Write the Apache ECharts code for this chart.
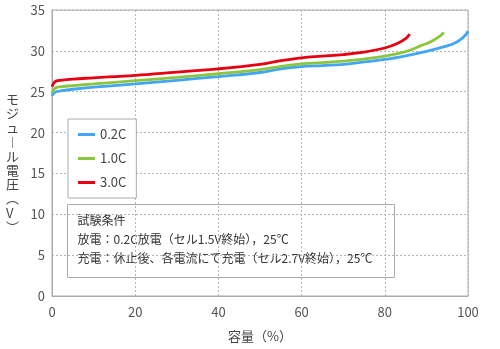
<!DOCTYPE html>
<html>
<head>
<meta charset="utf-8">
<script src="https://cdn.jsdelivr.net/npm/echarts@6/dist/echarts.min.js"></script>
<style>
  html, body { margin: 0; padding: 0; background: #fff; }
  #chart { width: 500px; height: 349px; }
</style>
</head>
<body>
<div id="chart"></div>
<script>
// Module voltage vs. capacity for three charge rates
const seriesNames = ['0.2C', '1.0C', '3.0C'];
const seriesColors = ['#42a5f5', '#8cc63f', '#e60012'];

// [capacity %, module voltage V]
const curve02C = [
  [0, 24.5], [0.5, 24.85], [1, 25.0], [2, 25.1], [5, 25.3], [10, 25.55],
  [20, 25.95], [30, 26.4], [40, 26.85], [50, 27.35], [55, 27.8], [60, 28.07],
  [65, 28.2], [70, 28.35], [75, 28.65], [80, 28.95], [85, 29.4], [90, 29.95],
  [95, 30.6], [97, 31.0], [98.5, 31.5], [99.5, 32.0], [100, 32.4]
];
const curve10C = [
  [0, 24.8], [0.5, 25.3], [1, 25.5], [2, 25.6], [5, 25.75], [10, 25.95],
  [20, 26.35], [30, 26.75], [40, 27.2], [50, 27.7], [55, 28.1], [60, 28.4],
  [65, 28.55], [70, 28.75], [75, 29.0], [80, 29.35], [85, 29.9], [89, 30.7],
  [91, 31.1], [93, 31.7], [94.2, 32.25]
];
const curve30C = [
  [0, 25.6], [0.5, 26.1], [1, 26.3], [2, 26.4], [5, 26.55], [10, 26.7],
  [20, 27.0], [30, 27.4], [40, 27.8], [50, 28.35], [55, 28.8], [60, 29.15],
  [65, 29.35], [70, 29.55], [75, 29.85], [80, 30.35], [83, 30.9], [85, 31.5],
  [86, 32.05]
];
const curves = [curve02C, curve10C, curve30C];

const xAxisTitle = '容量（%）';
const yAxisTitleChars = ['モ', 'ジ', 'ュ', '︱', 'ル', '電', '圧', '︵', 'V', '︶'];
const noteLines = [
  '試験条件',
  '放電：0.2C放電（セル1.5V終始），25℃',
  '充電：休止後、各電流にて充電（セル2.7V終始），25℃'
];

const FONT = '"Noto Sans CJK JP", "Noto Sans", sans-serif';
const chart = echarts.init(document.getElementById('chart'), null, { renderer: 'canvas' });

const gridLine = { show: true, lineStyle: { color: '#b5b5b5', type: [2, 2], width: 1 } };

chart.setOption({
  animation: false,
  textStyle: { fontFamily: FONT },
  grid: {
    left: 52, right: 32, top: 10, bottom: 53,
    show: true, borderColor: '#aaaaaa', borderWidth: 1, backgroundColor: 'transparent'
  },
  legend: {
    orient: 'vertical',
    left: 68, top: 119,
    padding: [7, 10, 7, 10],
    itemGap: 7,
    icon: 'rect',
    itemWidth: 17, itemHeight: 3,
    backgroundColor: '#fff',
    borderColor: '#aaaaaa', borderWidth: 1,
    textStyle: { color: '#444', fontSize: 13, lineHeight: 17, fontFamily: FONT },
    data: seriesNames
  },
  xAxis: {
    type: 'value', min: 0, max: 100, interval: 20,
    name: xAxisTitle, nameLocation: 'middle', nameGap: 34,
    nameTextStyle: { color: '#444', fontSize: 13, fontFamily: FONT },
    axisLine: { show: true, lineStyle: { color: '#aaaaaa' } },
    axisTick: { show: false },
    axisLabel: { color: '#555', fontSize: 13, margin: 10, fontFamily: FONT },
    splitLine: gridLine
  },
  yAxis: {
    type: 'value', min: 0, max: 35, interval: 5,
    axisLine: { show: true, lineStyle: { color: '#aaaaaa' } },
    axisTick: { show: false },
    axisLabel: { color: '#555', fontSize: 13, margin: 7, fontFamily: FONT },
    splitLine: gridLine
  },
  series: seriesNames.map((name, i) => ({
    name: name,
    type: 'line',
    data: curves[i],
    smooth: 0.4,
    symbol: 'none',
    color: seriesColors[i],
    lineStyle: { width: 2.8, color: seriesColors[i] },
    z: 2 + i
  })),
  graphic: [
    {
      type: 'text',
      left: 6, top: 92,
      style: {
        text: yAxisTitleChars.join('\n'),
        fill: '#444', font: '13px ' + FONT,
        lineHeight: 14.2, align: 'center', width: 14
      }
    },
    {
      type: 'group',
      left: 67, top: 204,
      z: 100,
      children: [
        {
          type: 'rect',
          shape: { x: 0, y: 0, width: 327, height: 73 },
          style: { fill: '#fff', stroke: '#aaaaaa', lineWidth: 1 }
        }
      ].concat(noteLines.map((t, i) => ({
        type: 'text',
        x: 10, y: 16 + i * 19,
        style: { text: t, fill: '#333', font: '12px ' + FONT, verticalAlign: 'middle' }
      })))
    }
  ]
});
</script>
</body>
</html>
